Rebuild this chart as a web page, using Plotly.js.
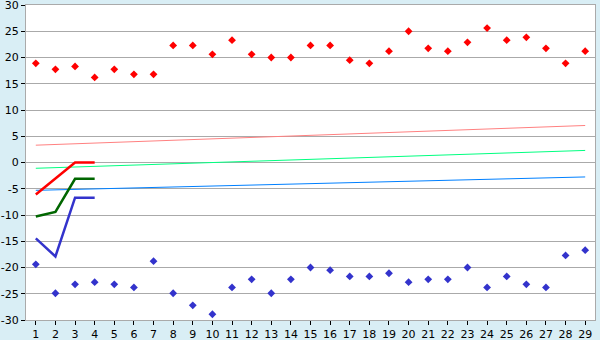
<!DOCTYPE html>
<html>
<head>
<meta charset="utf-8">
<script src="https://cdn.plot.ly/plotly-3.0.1.min.js"></script>
<style>html,body{margin:0;padding:0;background:#d9eef5;}#chart{width:600px;height:340px;}</style>
</head>
<body>
<div id="chart"></div>
<script>
const days = [1,2,3,4,5,6,7,8,9,10,11,12,13,14,15,16,17,18,19,20,21,22,23,24,25,26,27,28,29];
const highs = [18.9,17.75,18.3,16.2,17.75,16.8,16.8,22.3,22.3,20.6,23.3,20.6,20.0,20.0,22.3,22.3,19.5,18.9,21.2,25.0,21.75,21.2,22.9,25.6,23.3,23.85,21.75,18.9,21.2];
const lows = [-19.4,-24.9,-23.2,-22.8,-23.2,-23.8,-18.8,-24.9,-27.2,-28.9,-23.8,-22.25,-24.9,-22.25,-20.0,-20.5,-21.7,-21.7,-21.1,-22.8,-22.25,-22.25,-20.0,-23.8,-21.7,-23.2,-23.8,-17.7,-16.7];
const trendX = [1,29];
const trendHigh = [3.3,7.05];
const trendMean = [-1.1,2.3];
const trendLow = [-5.3,-2.75];
const recentDays = [1,2,3,4];
const recentHigh = [-6.1,-3.05,0,0];
const recentMean = [-10.3,-9.4,-3.1,-3.1];
const recentLow = [-14.45,-17.9,-6.7,-6.7];
const yTicks = [-30,-25,-20,-15,-10,-5,0,5,10,15,20,25,30];

const traces = [
  {x: trendX, y: trendHigh, mode:'lines', line:{color:'#ff8080', width:1}},
  {x: trendX, y: trendMean, mode:'lines', line:{color:'#00ff80', width:1}},
  {x: trendX, y: trendLow, mode:'lines', line:{color:'#0080ff', width:1}},
  {x: recentDays, y: recentHigh, mode:'lines', line:{color:'#ff0000', width:2.5}},
  {x: recentDays, y: recentMean, mode:'lines', line:{color:'#006600', width:2.5}},
  {x: recentDays, y: recentLow, mode:'lines', line:{color:'#3333cc', width:2.5}},
  {x: days, y: highs, mode:'markers', marker:{symbol:'diamond', size:6, color:'#ff0000'}},
  {x: days, y: lows, mode:'markers', marker:{symbol:'diamond', size:6, color:'#3333cc'}}
];

const layout = {
  width:600, height:340,
  margin:{l:26, r:5, t:5, b:20},
  paper_bgcolor:'#d9eef5',
  plot_bgcolor:'#ffffff',
  showlegend:false,
  font:{family:'DejaVu Sans, Verdana, sans-serif', size:11, color:'#000000'},
  xaxis:{
    range:[0.5,29.5], tickmode:'array', tickvals:days, ticktext:days.map(String),
    showgrid:false, zeroline:false, showline:true, linecolor:'#aaaaaa', linewidth:1, mirror:true,
    ticks:'outside', ticklen:4, tickcolor:'#000000', fixedrange:true, ticklabeloverflow:'allow'
  },
  yaxis:{
    range:[-30,30], tickmode:'array', tickvals:yTicks, ticktext:yTicks.map(String),
    showgrid:true, gridcolor:'#aaaaaa', gridwidth:1, zeroline:false,
    showline:true, linecolor:'#aaaaaa', linewidth:1, mirror:true,
    ticks:'outside', ticklen:4, tickcolor:'#000000', fixedrange:true, ticklabeloverflow:'allow'
  }
};
Plotly.newPlot('chart', traces, layout, {staticPlot:true, displayModeBar:false});
</script>
</body>
</html>
